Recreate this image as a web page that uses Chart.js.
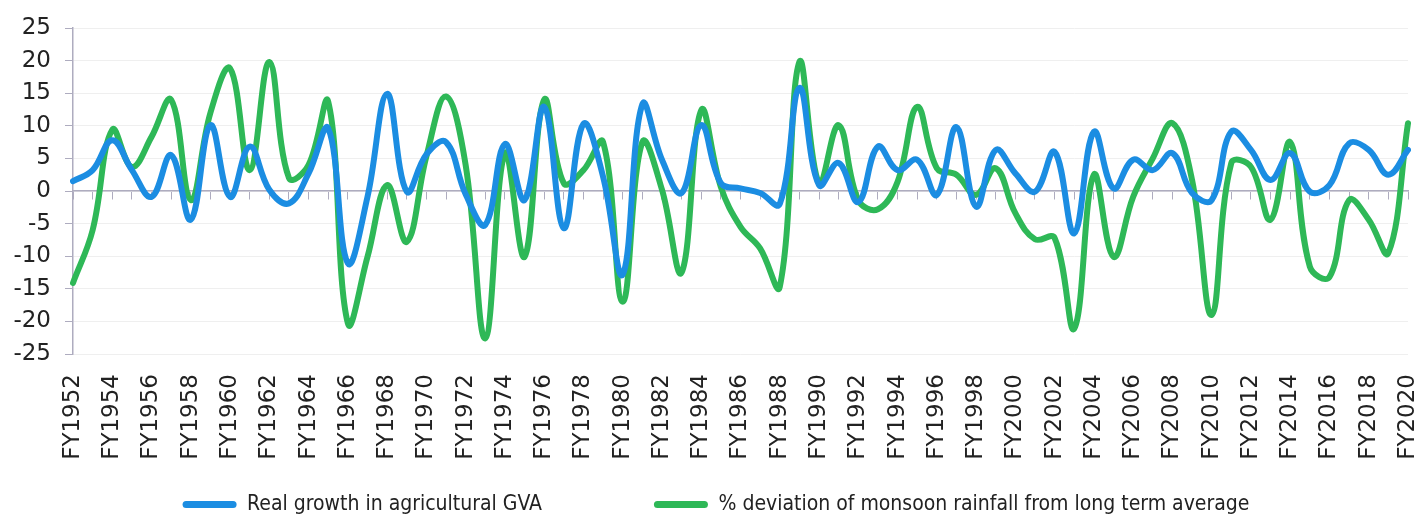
<!DOCTYPE html>
<html>
<head>
<meta charset="utf-8">
<script src="https://cdn.jsdelivr.net/npm/chart.js@4.4.1/dist/chart.umd.min.js"></script>
<style>
    body { margin: 0; background: #ffffff; }
    #wrap { width: 1422px; height: 514px; }
</style>
</head>
<body>
<div id="wrap"><canvas id="chart"></canvas></div>
<script>
const years = [
    "FY1952", "FY1953", "FY1954", "FY1955", "FY1956", "FY1957", "FY1958", "FY1959", "FY1960", "FY1961",
    "FY1962", "FY1963", "FY1964", "FY1965", "FY1966", "FY1967", "FY1968", "FY1969", "FY1970", "FY1971",
    "FY1972", "FY1973", "FY1974", "FY1975", "FY1976", "FY1977", "FY1978", "FY1979", "FY1980", "FY1981",
    "FY1982", "FY1983", "FY1984", "FY1985", "FY1986", "FY1987", "FY1988", "FY1989", "FY1990", "FY1991",
    "FY1992", "FY1993", "FY1994", "FY1995", "FY1996", "FY1997", "FY1998", "FY1999", "FY2000", "FY2001",
    "FY2002", "FY2003", "FY2004", "FY2005", "FY2006", "FY2007", "FY2008", "FY2009", "FY2010", "FY2011",
    "FY2012", "FY2013", "FY2014", "FY2015", "FY2016", "FY2017", "FY2018", "FY2019", "FY2020"
]

// real growth in agricultural GVA, %
const agriGrowth = [
    1.5, 3.2, 7.8, 3.2, -0.9, 5.5, -4.4, 10.1, -0.9, 6.8,
    0.2, -1.9, 2.7, 9.6, -11.1, -0.9, 14.9, -0.1, 5.6, 7.5,
    -0.5, -5.2, 7.2, -1.4, 12.9, -5.7, 10.3, 2.2, -12.8, 13.3,
    4.8, -0.3, 10.1, 1.2, 0.4, -0.3, -2.0, 15.8, 0.9, 4.3,
    -1.7, 6.8, 3.2, 4.8, -0.6, 9.8, -2.4, 6.3, 2.7, -0.1,
    6.0, -6.5, 9.1, 0.4, 4.8, 3.2, 5.8, -0.3, -1.4, 9.1,
    6.3, 1.7, 5.8, -0.1, 0.9, 7.3, 6.3, 2.5, 6.3
]

// % deviation of monsoon rainfall from long term average
const rainDeviation = [
    -14.1, -6.0, 9.4, 3.7, 8.3, 14.0, -1.4, 12.0, 18.8, 3.2,
    19.8, 2.0, 4.0, 13.7, -20.3, -10.1, 0.9, -7.8, 5.3, 14.5,
    4.0, -22.6, 5.8, -10.1, 14.0, 1.2, 3.2, 7.5, -17.0, 7.5,
    0.2, -12.5, 12.4, 0.6, -5.5, -8.8, -14.7, 19.8, 1.2, 10.1,
    -1.4, -2.8, 1.4, 12.9, 3.5, 2.5, -0.6, 3.5, -3.4, -7.4,
    -7.2, -21.1, 2.5, -10.1, -0.9, 5.0, 10.4, 1.7, -19.0, 4.3,
    3.7, -4.4, 7.5, -11.6, -13.2, -1.4, -4.4, -9.5, 10.4
]

const axisGrey = '#aeacbf'
const gridGrey = '#efefef'
const tickFont = { family: "'DejaVu Sans', sans-serif", size: 23 }
const legendFont = { family: "'DejaVu Sans Condensed', 'Liberation Sans Narrow', 'Roboto Condensed', 'DejaVu Sans', sans-serif", size: 21 }

const LEGEND_GAP = 112      // horizontal space between the two legend items
const LEGEND_HEIGHT = 56    // space kept for the legend under the x labels
const LEGEND_ROW_Y = 494    // top of the legend row
const LEGEND_SHIFT = 5      // the original legend sits a little right of centre

function lineSet(label, data, color) {
    return {
        label: label,
        data: data,
        borderColor: color,
        backgroundColor: color,
        borderWidth: 6,
        pointRadius: 0,
        pointHoverRadius: 0,
        tension: 0.4,
        borderCapStyle: 'round',
        borderJoinStyle: 'round',
        fill: false
    }
}

// the legend items sit far apart (like the original), but the wide gap
// must not make the legend box tall, so fix its height and row position
const legendLayout = {
    id: 'legendLayout',
    beforeLayout(chart) {
        const legend = chart.legend
        if (!legend || legend._fitPatched) return
        const fit = legend.fit
        legend.fit = function () {
            fit.call(this)
            this.height = LEGEND_HEIGHT
        }
        legend._fitPatched = true
    },
    beforeDraw(chart) {
        const legend = chart.legend
        legend.top = LEGEND_ROW_Y - LEGEND_GAP
        legend.bottom = chart.height
        legend.left = LEGEND_SHIFT
        legend.right = chart.width + LEGEND_SHIFT
    }
}

new Chart(document.getElementById('chart'), {
    type: 'line',
    data: {
        labels: years,
        datasets: [
            lineSet('Real growth in agricultural GVA', agriGrowth, '#1b8de2'),
            lineSet('% deviation of monsoon rainfall from long term average', rainDeviation, '#2eb857')
        ]
    },
    plugins: [legendLayout],
    options: {
        responsive: true,
        maintainAspectRatio: false,
        animation: false,
        layout: { padding: { top: 28, left: 12, right: 14, bottom: 0 } },
        plugins: {
            tooltip: { enabled: false },
            legend: {
                position: 'bottom',
                labels: {
                    font: legendFont,
                    color: '#222222',
                    boxWidth: 54,
                    boxHeight: 7,
                    useBorderRadius: true,
                    borderRadius: 3.5,
                    padding: LEGEND_GAP,
                    generateLabels(chart) {
                        const items = Chart.defaults.plugins.legend.labels.generateLabels(chart)
                        return items.map(item => Object.assign(item, { lineWidth: 0, strokeStyle: 'rgba(0,0,0,0)' }))
                    }
                }
            }
        },
        scales: {
            x: {
                offset: false,
                grid: { display: false },
                border: { display: false },
                ticks: {
                    font: tickFont,
                    color: '#222222',
                    autoSkip: false,
                    maxRotation: 90,
                    minRotation: 90,
                    padding: 12,
                    callback: function (value, index) {
                        return index % 2 === 0 ? this.getLabelForValue(value) : ''
                    }
                },
                afterFit(scale) {
                    scale.paddingLeft = 0
                    scale.paddingRight = 0
                    scale.height = 104
                }
            },
            xZero: {
                type: 'category',
                position: { y: 0 },
                offset: false,
                grid: { drawOnChartArea: false, tickLength: 8, tickColor: axisGrey, tickWidth: 1 },
                border: { display: true, color: axisGrey, width: 1.5 },
                ticks: { display: false, autoSkip: false }
            },
            y: {
                min: -25,
                max: 25,
                grid: { color: gridGrey, lineWidth: 1, tickLength: 8, tickColor: axisGrey },
                border: { display: true, color: axisGrey, width: 1.5 },
                ticks: {
                    stepSize: 5,
                    autoSkip: false,
                    font: tickFont,
                    color: '#222222',
                    padding: 14
                },
                afterFit(scale) {
                    scale.width = 61
                }
            }
        }
    }
})
</script>
</body>
</html>
